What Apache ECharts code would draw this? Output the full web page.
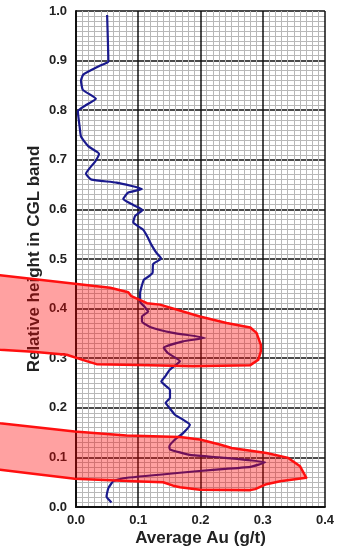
<!DOCTYPE html>
<html>
<head>
<meta charset="utf-8">
<script src="https://cdn.jsdelivr.net/npm/echarts@6/dist/echarts.min.js"></script>
<style>
html,body{margin:0;padding:0;background:#fff;}
#chart{width:337px;height:554px;}
</style>
</head>
<body>
<div id="chart"></div>
<script>
// Average Au (g/t) profile versus relative height, [Au, height]
var auProfile = [
  [0.050,0.992],[0.052,0.898],[0.039,0.890],[0.012,0.872],[0.008,0.860],[0.011,0.841],
  [0.032,0.823],[0.017,0.811],[0.003,0.798],[0.006,0.765],[0.008,0.747],[0.020,0.727],
  [0.037,0.712],[0.031,0.697],[0.016,0.672],[0.025,0.660],[0.065,0.654],[0.106,0.641],
  [0.084,0.634],[0.076,0.621],[0.092,0.609],[0.107,0.599],[0.095,0.587],[0.092,0.574],
  [0.108,0.559],[0.116,0.542],[0.121,0.529],[0.129,0.513],[0.137,0.501],[0.124,0.490],
  [0.123,0.472],[0.118,0.466],[0.109,0.458],[0.103,0.431],[0.103,0.414],[0.110,0.404],
  [0.116,0.394],[0.106,0.384],[0.106,0.374],[0.119,0.363],[0.156,0.351],[0.207,0.341],
  [0.172,0.334],[0.141,0.321],[0.148,0.310],[0.167,0.294],[0.161,0.287],[0.151,0.277],
  [0.143,0.263],[0.137,0.253],[0.151,0.236],[0.151,0.220],[0.144,0.210],[0.150,0.200],
  [0.159,0.186],[0.172,0.176],[0.183,0.166],[0.172,0.149],[0.159,0.136],[0.150,0.122],
  [0.151,0.116],[0.183,0.105],[0.240,0.099],[0.304,0.090],[0.280,0.081],[0.220,0.075],
  [0.167,0.069],[0.076,0.058],[0.060,0.052],[0.052,0.038],[0.049,0.021],[0.057,0.009]
];
// Highlighted upper band outline, [Au, height]
var upperBand = [
  [-0.130,0.468],[-0.122,0.467],[-0.002,0.450],[0.055,0.442],[0.084,0.433],[0.089,0.425],
  [0.114,0.411],[0.135,0.408],[0.199,0.384],[0.242,0.371],[0.280,0.362],[0.290,0.351],
  [0.295,0.334],[0.297,0.327],[0.297,0.314],[0.293,0.297],[0.280,0.286],[0.188,0.284],
  [0.119,0.286],[0.033,0.288],[0.017,0.294],[-0.015,0.307],[-0.069,0.313],[-0.122,0.317],
  [-0.130,0.318]
];
// Highlighted lower band outline, [Au, height]
var lowerBand = [
  [-0.130,0.171],[-0.122,0.169],[-0.002,0.152],[0.081,0.144],[0.167,0.141],[0.199,0.136],
  [0.231,0.126],[0.250,0.119],[0.306,0.109],[0.341,0.099],[0.360,0.082],[0.370,0.059],
  [0.328,0.052],[0.306,0.046],[0.288,0.036],[0.280,0.034],[0.199,0.035],[0.167,0.040],
  [0.156,0.043],[0.140,0.050],[0.092,0.052],[-0.002,0.057],[-0.069,0.067],[-0.122,0.075],
  [-0.130,0.076]
];
var xTicks = [0, 0.1, 0.2, 0.3, 0.4];
var yTicks = [0, 0.1, 0.2, 0.3, 0.4, 0.5, 0.6, 0.7, 0.8, 0.9, 1.0];

var chart = echarts.init(document.getElementById('chart'), null, {renderer:'canvas'});
var font = 'Liberation Sans, Arial, Helvetica, sans-serif';
function bandSeries(pts){
  return {
    type:'custom', clip:false, z:10, silent:true,
    data:[0],
    renderItem:function(params, api){
      var p = pts.map(function(d){ return api.coord(d); });
      return {type:'polygon', shape:{points:p},
        style:{fill:'rgba(255,0,0,0.37)', stroke:'#ff1010', lineWidth:2.5, lineJoin:'round'}};
    }
  };
}
chart.setOption({
  animation:false,
  backgroundColor:'#fff',
  grid:{left:76, right:12, top:11, bottom:47, containLabel:false},
  xAxis:{
    type:'value', min:xTicks[0], max:xTicks[xTicks.length-1], interval:0.1,
    name:'Average Au (g/t)', nameLocation:'middle', nameGap:23, nameMoveOverlap:false,
    nameTextStyle:{fontFamily:font, fontWeight:'bold', fontSize:17, color:'#222'},
    axisLine:{show:true, lineStyle:{color:'#111', width:2}},
    axisTick:{show:false},
    axisLabel:{fontFamily:font, fontWeight:'bold', fontSize:13, color:'#222', margin:7,
      formatter:function(v){return v.toFixed(1);}},
    splitLine:{show:true, lineStyle:{color:'#111', width:1.5}},
    minorTick:{show:false, splitNumber:10},
    minorSplitLine:{show:true, lineStyle:{color:'#b8b8b8', width:1}}
  },
  yAxis:{
    type:'value', min:yTicks[0], max:yTicks[yTicks.length-1], interval:0.1,
    name:'Relative height in CGL band', nameLocation:'middle', nameGap:33, nameMoveOverlap:false,
    nameTextStyle:{fontFamily:font, fontWeight:'bold', fontSize:17, color:'#222'},
    axisLine:{show:true, lineStyle:{color:'#111', width:2}},
    axisTick:{show:false},
    axisLabel:{fontFamily:font, fontWeight:'bold', fontSize:13, color:'#222', margin:9,
      formatter:function(v){return v.toFixed(1);}},
    splitLine:{show:true, lineStyle:{color:'#111', width:1.5}},
    minorTick:{show:false, splitNumber:10},
    minorSplitLine:{show:true, lineStyle:{color:'#b8b8b8', width:1}}
  },
  series:[
    {type:'line', data:auProfile, showSymbol:false, smooth:0.15, z:3,
      lineStyle:{color:'#1a1a8e', width:2.2}},
    bandSeries(upperBand),
    bandSeries(lowerBand)
  ]
});
</script>
</body>
</html>
